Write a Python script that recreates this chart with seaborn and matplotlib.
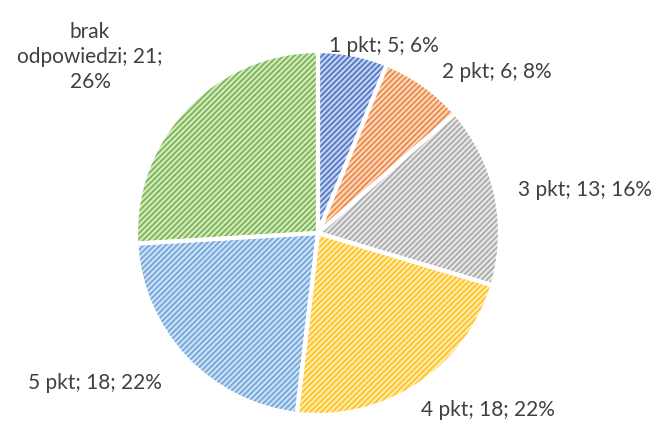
import numpy as np
import matplotlib
matplotlib.use("Agg")
import matplotlib.pyplot as plt
import seaborn as sns

categories = ["1 pkt", "2 pkt", "3 pkt", "4 pkt", "5 pkt", "brak\nodpowiedzi"]
counts = [5, 6, 13, 18, 18, 21]
percents = ["6%", "8%", "16%", "22%", "22%", "26%"]
stripe_colors = ["#5577c8", "#ee8a45", "#ababab", "#ffc227", "#72a7dc", "#7eb552"]
fill_colors = ["#c6d4f0", "#fbd9c2", "#e8e8e8", "#ffedb0", "#cfe1f4", "#d3eac3"]
# label placement (radius units, relative to pie centre)
label_xy = [(0.36, 1.03), (0.98, 0.885), (1.467, 0.236),
            (0.934, -0.973), (-1.225, -0.824), (-1.253, 0.967)]

sns.set_style("white")
plt.rcParams['font.family'] = ['Lato', 'DejaVu Sans']
plt.rcParams['hatch.linewidth'] = 1.3

fig = plt.figure(figsize=(6.59, 4.23), dpi=100)
ax = fig.add_axes([0, 0, 1, 1])

wedges, _ = ax.pie(counts, startangle=90, counterclock=False, radius=1.0,
                   colors=fill_colors,
                   wedgeprops=dict(linewidth=0))
for w, c in zip(wedges, stripe_colors):
    w.set_hatch("//////")
    w.set_edgecolor(c)
    w.set_linewidth(0)

# white separators on top
ax.pie(counts, startangle=90, counterclock=False, radius=1.0,
       colors=["none"] * len(counts),
       wedgeprops=dict(linewidth=3, edgecolor="white", fill=False))

for cat, n, p, (lx, ly) in zip(categories, counts, percents, label_xy):
    if "\n" in cat:
        txt = "brak\nodpowiedzi; %d;\n%s" % (n, p)
    else:
        txt = "%s; %d; %s" % (cat, n, p)
    ax.text(lx, ly, txt, ha="center", va="center", fontsize=15,
            color="#404040", linespacing=1.3)

cx, cy, r = 318, 233, 182
ax.set_xlim(-cx / r, (659 - cx) / r)
ax.set_ylim(-(423 - cy) / r, cy / r)
ax.set_aspect("equal")
ax.axis("off")

plt.savefig("out.png", dpi=100)
